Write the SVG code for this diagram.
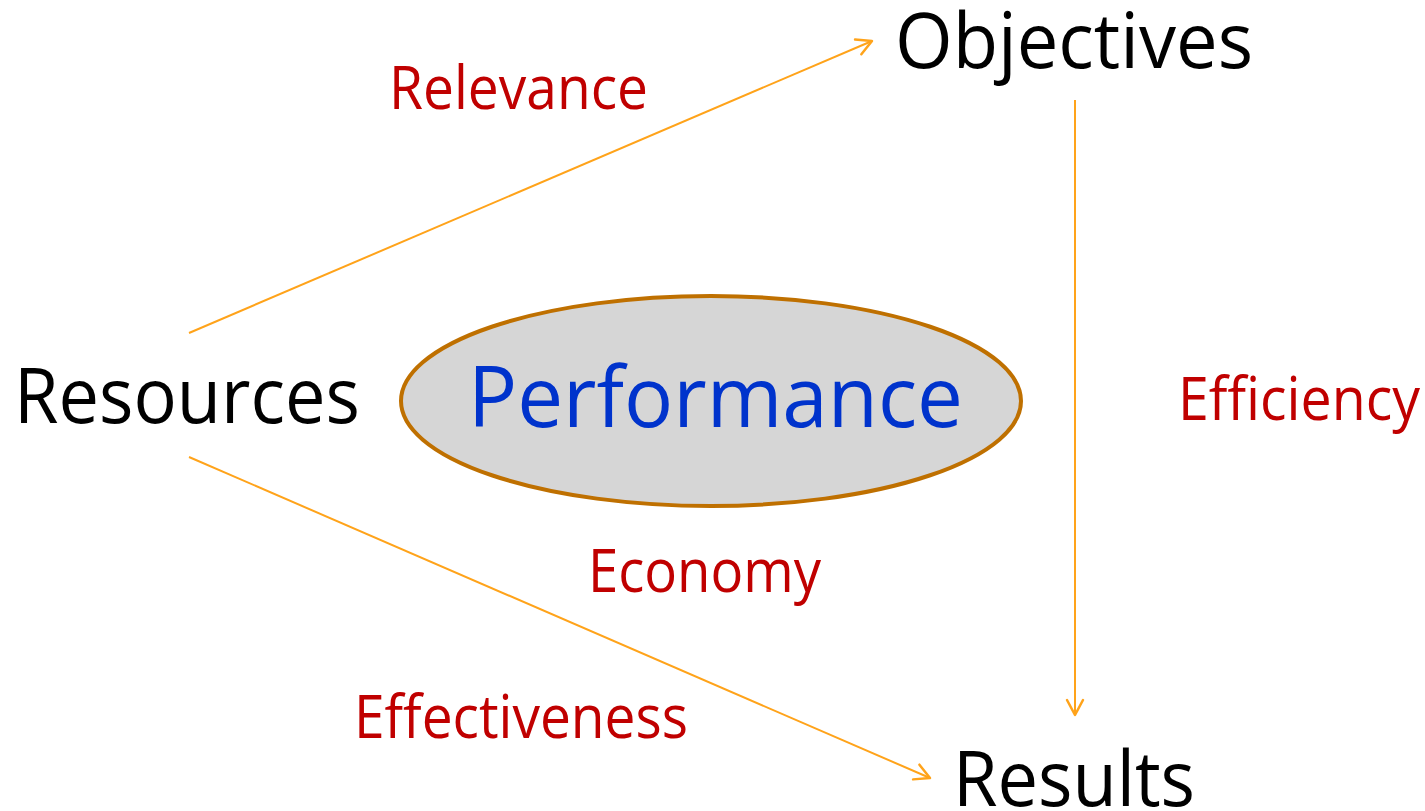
<svg xmlns="http://www.w3.org/2000/svg" width="1425" height="811" viewBox="0 0 1425 811">
<defs>
<style>
.lbl{font-family:"Open Sans","Noto Sans","Liberation Sans",sans-serif;}
.node{fill:#000;font-size:77px;}
.rel{fill:#C00000;font-size:60px;}
.perf{fill:#0033CC;font-size:84px;}
.conn{stroke:#FFA31A;stroke-width:2;fill:none;marker-end:url(#arr);}
</style>
<marker id="arr" viewBox="0 0 20 20" refX="18" refY="10" markerWidth="20" markerHeight="20" markerUnits="userSpaceOnUse" orient="auto">
<path d="M3,2 L18,10 L3,18" fill="none" stroke="#FFA31A" stroke-width="2.5" stroke-linecap="round" stroke-linejoin="round"/>
</marker>
</defs>
<rect width="1425" height="811" fill="#fff"/>
<g id="connectors">
<line class="conn" x1="189" y1="333" x2="872" y2="41"/>
<line class="conn" x1="1075" y1="100" x2="1075" y2="715"/>
<line class="conn" x1="189" y1="457" x2="930" y2="778"/>
</g>
<g id="performance">
<ellipse cx="711" cy="401" rx="310" ry="105" fill="#D6D6D6" stroke="#BF7000" stroke-width="4"/>
<text class="lbl perf" x="468" y="427" textLength="495" lengthAdjust="spacingAndGlyphs">Performance</text>
</g>
<g id="objectives"><text class="lbl node" x="895" y="68" textLength="358" lengthAdjust="spacingAndGlyphs">Objectives</text></g>
<g id="resources"><text class="lbl node" x="14" y="423" textLength="346" lengthAdjust="spacingAndGlyphs">Resources</text></g>
<g id="results"><text class="lbl node" x="953" y="806" textLength="242" lengthAdjust="spacingAndGlyphs">Results</text></g>
<g id="labels">
<text class="lbl rel" x="389" y="109" textLength="259" lengthAdjust="spacingAndGlyphs">Relevance</text>
<text class="lbl rel" x="1178" y="420" textLength="242" lengthAdjust="spacingAndGlyphs">Efficiency</text>
<text class="lbl rel" x="588" y="592" textLength="233" lengthAdjust="spacingAndGlyphs">Economy</text>
<text class="lbl rel" x="354" y="738" textLength="334" lengthAdjust="spacingAndGlyphs">Effectiveness</text>
</g>
</svg>
